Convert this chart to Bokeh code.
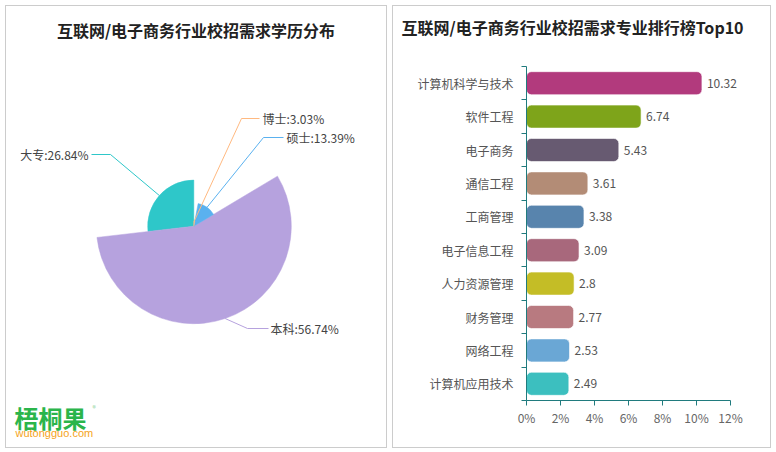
import math
from bokeh.plotting import figure
from bokeh.models import Range1d, Label, FixedTicker, ColumnDataSource, Title
from bokeh.layouts import row
from bokeh.embed import file_html
from bokeh.resources import INLINE
from bokeh.core.properties import value

# ---------------- data ----------------
edu_names = ["大专", "本科", "硕士", "博士"]
edu_values = [26.84, 56.74, 13.39, 3.03]
edu_colors = ["#2ec7c9", "#b6a2de", "#5ab1ef", "#ffb980"]

majors = ["计算机科学与技术", "软件工程", "电子商务", "通信工程", "工商管理",
          "电子信息工程", "人力资源管理", "财务管理", "网络工程", "计算机应用技术"]
major_values = [10.32, 6.74, 5.43, 3.61, 3.38, 3.09, 2.8, 2.77, 2.53, 2.49]
major_value_labels = ["10.32", "6.74", "5.43", "3.61", "3.38", "3.09", "2.8", "2.77", "2.53", "2.49"]
bar_colors = ["#b23a7d", "#7ea41a", "#675a71", "#b38c76", "#5884ad",
              "#a8687c", "#c4bd26", "#b87a80", "#6aa7d5", "#3cbfbf"]
x_ticks = [0, 2, 4, 6, 8, 10, 12]
x_tick_labels = ["0%", "2%", "4%", "6%", "8%", "10%", "12%"]

FONT = "Noto Sans CJK SC"
BORDER = "#cccccc"
AXIS = "#207b7e"
PANEL_STYLE = {"box-shadow": f"0 0 0 1px {BORDER}"}

# ---------------- left panel: rose pie ----------------
left = figure(width=380, height=441, x_range=Range1d(6, 386), y_range=Range1d(-447, -6),
              output_backend="svg", toolbar_location=None, x_axis_type=None, y_axis_type=None,
              min_border=0, outline_line_color=None, styles=PANEL_STYLE, frame_align=False)
left.grid.visible = False

cx, cy, R = 193.3, -225.7, 97.5
vmax = max(edu_values)
total = sum(edu_values)
starts, ends, radii, mids = [], [], [], []
acc = 0.0
for v in edu_values:
    a0 = math.pi / 2 + acc / total * 2 * math.pi
    a1 = a0 + v / total * 2 * math.pi
    starts.append(a0); ends.append(a1)
    mids.append((a0 + a1) / 2)
    radii.append(v / vmax * R)
    acc += v
src = ColumnDataSource(dict(start=starts, end=ends, r=radii, color=edu_colors))
left.wedge(x=cx, y=cy, radius="r", start_angle="start", end_angle="end", direction="anticlock",
           fill_color="color", line_color="color", line_width=0.5, source=src)

# label guide layout (elbow point, end x, text x, align) per slice
guide = {
    "大专": ((110, -154), 91, 88, "right"),
    "本科": ((247, -328), 268, 270, "left"),
    "硕士": ((263, -137), 283, 286, "left"),
    "博士": ((241, -118), 259, 262, "left"),
}
for name, v, col, m, r in zip(edu_names, edu_values, edu_colors, mids, radii):
    (ex, ey), endx, tx, al = guide[name]
    sx, sy = cx + r * math.cos(m), cy + r * math.sin(m)
    left.line(x=[sx, ex, endx], y=[sy, ey, ey], line_color=col, line_width=1)
    left.add_layout(Label(x=tx, y=ey, text=f"{name}:{v:.2f}%", text_align=al, text_baseline="middle",
                          text_font=FONT, text_font_size="12px", text_color="#444444"))

left.add_layout(Label(x=195.5, y=-29, text="互联网/电子商务行业校招需求学历分布", text_align="center",
                      text_baseline="middle", text_font=FONT, text_font_size="16px",
                      text_font_style="bold", text_color="#222222"))
left.add_layout(Label(x=14, y=-417, text="梧桐果", text_align="left", text_baseline="middle",
                      text_font=FONT, text_font_size="24px", text_font_style="bold", text_color="#2bb54b"))
left.add_layout(Label(x=92, y=-407, text="®", text_align="left", text_baseline="middle",
                      text_font=FONT, text_font_size="7px", text_color="#7fcf8f"))
left.add_layout(Label(x=15, y=-432, text="wutongguo.com", text_align="left", text_baseline="middle",
                      text_font="Liberation Sans", text_font_size="11px", text_color="#f5a31a"))

# ---------------- right panel: bar ranking ----------------
PX_PER_PCT = 17.0
right = figure(width=377, height=441, x_range=Range1d(0, 244 / PX_PER_PCT), y_range=Range1d(10, 0),
               output_backend="svg", toolbar_location=None, title=None,
               min_border_left=133, min_border_right=0, min_border_top=60, min_border_bottom=47,
               outline_line_color=None, styles=PANEL_STYLE, frame_align=False)
right.grid.visible = False

ypos = [i + 0.5 for i in range(len(majors))]
bsrc = ColumnDataSource(dict(y=ypos, v=major_values, c=bar_colors, t=major_value_labels))
right.hbar(y="y", left=0, right="v", height=0.69, fill_color="c", line_color="white",
           line_alpha=0.6, line_width=1, border_radius=5, source=bsrc)
right.text(x="v", y="y", text="t", x_offset=5, text_align="left", text_baseline="middle",
           text_font=value(FONT), text_font_size="12px", text_color="#555555", source=bsrc)

xa = right.xaxis[0]
xa.ticker = FixedTicker(ticks=x_ticks)
xa.bounds = (x_ticks[0], x_ticks[-1])
xa.major_label_overrides = {float(k): s for k, s in zip(x_ticks, x_tick_labels)}
xa.axis_line_color = AXIS
xa.major_tick_line_color = AXIS
xa.major_tick_in = 0
xa.major_tick_out = 5
xa.minor_tick_line_color = None
xa.major_label_standoff = 3
xa.major_label_text_font = FONT
xa.major_label_text_font_size = "12px"
xa.major_label_text_color = "#666666"

ya = right.yaxis[0]
ya.ticker = FixedTicker(ticks=ypos, minor_ticks=list(range(len(majors) + 1)))
ya.major_label_overrides = {float(y): m for y, m in zip(ypos, majors)}
ya.axis_line_color = AXIS
ya.major_tick_line_color = None
ya.major_tick_in = 0
ya.major_tick_out = 0
ya.minor_tick_line_color = AXIS
ya.minor_tick_in = 0
ya.minor_tick_out = 5
ya.major_label_standoff = 8
ya.major_label_text_font = FONT
ya.major_label_text_font_size = "12px"
ya.major_label_text_color = "#555555"

# spacer between the frame and the title (innermost item of the top panel)
right.add_layout(Title(text=" ", text_font=FONT, text_font_size="10px", standoff=11), "above")
right.add_layout(Title(text="互联网/电子商务行业校招需求专业排行榜Top10", align="left",
                       vertical_align="bottom", offset=-125, standoff=0, text_font=FONT,
                       text_font_size="16px", text_font_style="bold", text_color="#222222"), "above")

layout = row(left, right, spacing=7, margin=(6, 0, 0, 6))
open("out.html", "w").write(file_html(layout, INLINE))
